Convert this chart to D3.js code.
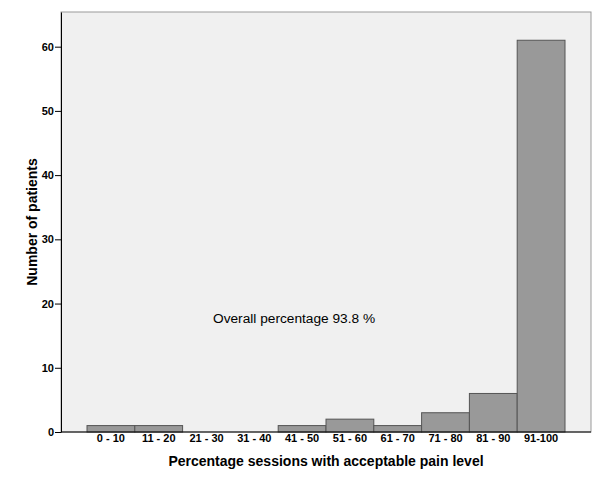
<!DOCTYPE html>
<html><head><meta charset="utf-8">
<script src="https://cdn.jsdelivr.net/npm/d3@7/dist/d3.min.js"></script>
<style>
body{margin:0;background:#fff;}
svg{display:block;font-family:Arial,"Liberation Sans",sans-serif;}
</style></head>
<body>
<svg id="chart" width="600" height="478"></svg>
<script>
const categories = ["0 - 10","11 - 20","21 - 30","31 - 40","41 - 50","51 - 60","61 - 70","71 - 80","81 - 90","91-100"];
const patients = [1,1,0,0,1,2,1,3,6,61];
const yTicks = [0,10,20,30,40,50,60];
const yTitle = "Number of patients";
const xTitle = "Percentage sessions with acceptable pain level";
const note = "Overall percentage 93.8 %";

const svg = d3.select("#chart");
const L = 61, R = 591, T = 12, B = 432;

const x = d3.scaleBand().domain(categories).range([87, 565]).padding(0);
const y = d3.scaleLinear().domain([0, 65.4]).range([B, T]);

svg.append("rect").attr("x", L).attr("y", T).attr("width", R - L).attr("height", B - T)
  .attr("fill", "#f0f0f0").attr("stroke", "#9a9a9a").attr("stroke-width", 1);

svg.selectAll("rect.bar").data(patients).enter().append("rect")
  .attr("class", "bar")
  .attr("x", (d, i) => x(categories[i]))
  .attr("y", d => y(d))
  .attr("width", x.bandwidth())
  .attr("height", d => B - y(d))
  .attr("fill", "#999999").attr("stroke", "#555555").attr("stroke-width", 1);

const yAxis = svg.append("g").attr("transform", `translate(${L},0)`)
  .call(d3.axisLeft(y).tickValues(yTicks).tickSize(6).tickPadding(1).tickSizeOuter(0));
yAxis.select(".domain").attr("stroke", "#000");
yAxis.selectAll("text").attr("font-size", 11).attr("font-weight", "bold").attr("fill", "#000")
  .attr("font-family", "Arial, 'Liberation Sans', sans-serif");

const xAxis = svg.append("g").attr("transform", `translate(0,${B})`)
  .call(d3.axisBottom(x).tickSize(0).tickPadding(2));
xAxis.select(".domain").remove();
xAxis.selectAll("text").attr("font-size", 11).attr("font-weight", "bold").attr("fill", "#000")
  .attr("font-family", "Arial, 'Liberation Sans', sans-serif");
svg.append("line").attr("x1", L).attr("x2", R).attr("y1", B).attr("y2", B).attr("stroke", "#000");

svg.append("text").attr("transform", `translate(37,${(T + B) / 2}) rotate(-90)`)
  .attr("text-anchor", "middle").attr("font-size", 14).attr("font-weight", "bold").text(yTitle);
svg.append("text").attr("x", (L + R) / 2).attr("y", 466)
  .attr("text-anchor", "middle").attr("font-size", 14).attr("font-weight", "bold").text(xTitle);
svg.append("text").attr("x", 213).attr("y", 323).attr("font-size", 13.7).text(note);
</script>
</body></html>
